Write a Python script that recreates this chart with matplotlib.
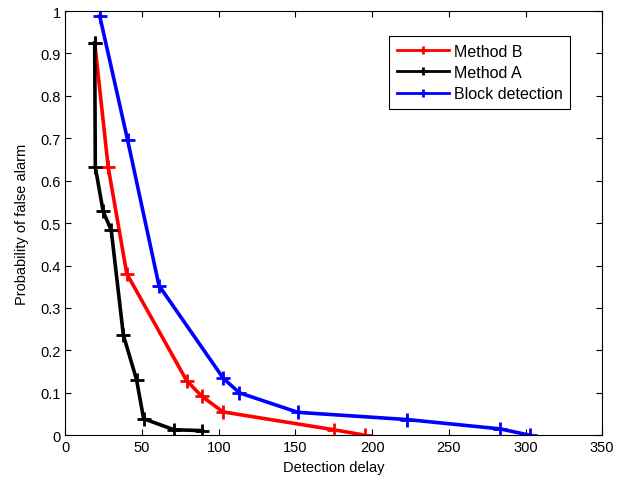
import matplotlib
matplotlib.use("Agg")
import matplotlib.pyplot as plt

plt.rcParams['font.family'] = ['Liberation Sans', 'DejaVu Sans']

## detection delay vs probability of false alarm
b_delay = [19.1, 27.9, 40.0, 79.0, 88.9, 102.8, 175.0, 195.6]
b_pfa = [0.925, 0.632, 0.381, 0.129, 0.092, 0.055, 0.013, 0.0]

a_delay = [19.1, 19.5, 24.6, 29.9, 37.8, 46.4, 51.0, 70.8, 89.3]
a_pfa = [0.925, 0.632, 0.528, 0.483, 0.236, 0.131, 0.039, 0.013, 0.011]

blk_delay = [22.4, 40.5, 61.0, 103.0, 113.5, 151.6, 223.0, 283.6, 303.0]
blk_pfa = [0.988, 0.697, 0.353, 0.134, 0.100, 0.054, 0.037, 0.015, 0.0]

fig = plt.figure(figsize=(6.17, 4.81), dpi=100)
ax = fig.add_axes([0.106, 0.093, 0.870, 0.882])

kw = dict(lw=2.6, marker='+', ms=10, mew=2)
ax.plot(b_delay, b_pfa, color='red', label='Method B', **kw)
ax.plot(a_delay, a_pfa, color='black', label='Method A', **kw)
ax.plot(blk_delay, blk_pfa, color='blue', label='Block detection', **kw)

ax.set_xlim(0, 350)
ax.set_ylim(0, 1)
ax.set_xticks(range(0, 351, 50))
ax.set_yticks([i / 10 for i in range(11)])
ax.set_yticklabels(['0'] + ['%.1f' % (i / 10) for i in range(1, 10)] + ['1'])
ax.tick_params(direction='in', top=True, right=True, labelsize=10.5, length=4)
ax.set_xlabel('Detection delay', fontsize=10.5)
ax.set_ylabel('Probability of false alarm', fontsize=10.5)
ax.xaxis.set_label_coords(0.5, -0.058)
ax.yaxis.set_label_coords(-0.068, 0.5)

leg = ax.legend(loc='upper right', bbox_to_anchor=(0.94, 0.94), fontsize=11.5,
                fancybox=False, edgecolor='black', framealpha=1,
                handlelength=3.3, borderpad=0.45, labelspacing=0.4,
                handletextpad=0.3, borderaxespad=0)
leg.get_frame().set_linewidth(0.8)
for line in leg.get_lines():
    line.set_markersize(6)
    line.set_linewidth(2)

fig.savefig('out.png', dpi=100)
